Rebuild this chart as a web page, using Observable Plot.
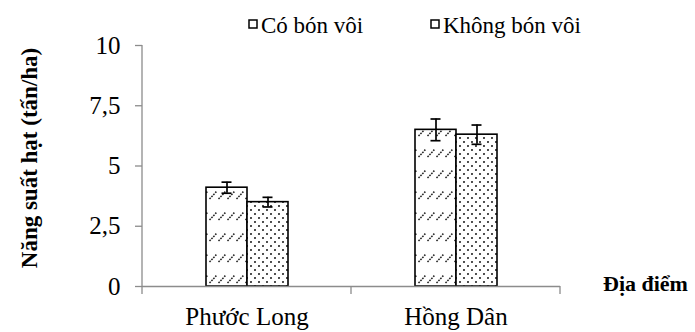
<!DOCTYPE html>
<html>
<head>
<meta charset="utf-8">
<script src="https://cdn.jsdelivr.net/npm/d3@7"></script>
<script src="https://cdn.jsdelivr.net/npm/@observablehq/plot@0.6"></script>
<style>
  body { margin: 0; background: white; }
  #chart { width: 695px; height: 332px; }
</style>
</head>
<body>
<div id="chart"></div>
<script>
const categories = ["Phước Long", "Hồng Dân"];
const series = ["Có bón vôi", "Không bón vôi"];
const coBonVoi = [4.1, 6.5];
const khongBonVoi = [3.5, 6.3];
const errCoBonVoi = [0.23, 0.45];
const errKhongBonVoi = [0.2, 0.4];
const yTicks = [0, 2.5, 5, 7.5, 10];
const yTickLabels = ["0", "2,5", "5", "7,5", "10"];
const yTitle = "Năng suất hạt (tấn/ha)";
const xTitle = "Địa điểm";

const seriesValues = [coBonVoi, khongBonVoi];
const seriesErrors = [errCoBonVoi, errKhongBonVoi];
const rows = [];
categories.forEach((c, i) => {
  series.forEach((s, j) => {
    rows.push({category: c, series: s, value: seriesValues[j][i], err: seriesErrors[j][i]});
  });
});
const fills = ["url(#hatch)", "url(#dots)"];

const font = "'Liberation Serif', 'Times New Roman', serif";

const plot = Plot.plot({
  width: 695,
  height: 332,
  marginLeft: 141,
  marginRight: 135,
  marginTop: 45,
  marginBottom: 46,
  style: {fontFamily: font, fontSize: "25px", color: "black", background: "white", overflow: "visible"},
  fx: {domain: categories, padding: 0, label: null},
  x: {domain: series, paddingInner: 0, paddingOuter: 1.494, axis: null},
  y: {domain: [0, 10], axis: null},
  marks: [
    Plot.axisY({ticks: yTicks, tickFormat: d => yTickLabels[yTicks.indexOf(d)], tickSize: 7, tickPadding: 15, stroke: "#8c8c8c", strokeWidth: 1.3, fill: "black", label: null, fontSize: 25}),
    Plot.axisFx({anchor: "bottom", tickSize: 0, tickPadding: 21, label: null, fontSize: 25, fill: "black"}),
    ...series.map((s, j) => Plot.barY(rows.filter(r => r.series === s), {
      fx: "category", x: "series", y: "value", fill: fills[j], stroke: "black", strokeWidth: 1.6
    })),
    Plot.ruleY([0], {stroke: "#8c8c8c", strokeWidth: 1.5}),
    Plot.ruleX(rows, {fx: "category", x: "series", y1: d => d.value - d.err, y2: d => d.value + d.err, stroke: "black", strokeWidth: 1.7}),
    Plot.tickY(rows, {fx: "category", x: "series", y: d => d.value - d.err, stroke: "black", strokeWidth: 1.7, insetLeft: 15.5, insetRight: 15.5}),
    Plot.tickY(rows, {fx: "category", x: "series", y: d => d.value + d.err, stroke: "black", strokeWidth: 1.7, insetLeft: 15.5, insetRight: 15.5})
  ]
});

const svg = d3.select(plot);
const defs = svg.insert("defs", ":first-child");
const hatch = defs.append("pattern").attr("id", "hatch").attr("patternUnits", "userSpaceOnUse")
  .attr("width", 9).attr("height", 21);
hatch.append("rect").attr("width", 9).attr("height", 21).attr("fill", "white");
hatch.append("line").attr("x1", 1.5).attr("y1", 10).attr("x2", 8.5).attr("y2", 2.5)
  .attr("stroke", "#222").attr("stroke-width", 1.5).attr("stroke-dasharray", "1.7 1.1");
const dots = defs.append("pattern").attr("id", "dots").attr("patternUnits", "userSpaceOnUse")
  .attr("width", 8).attr("height", 8);
dots.append("rect").attr("width", 8).attr("height", 8).attr("fill", "white");
dots.append("circle").attr("cx", 2).attr("cy", 2).attr("r", 1.05).attr("fill", "#222");
dots.append("circle").attr("cx", 6).attr("cy", 6).attr("r", 1.05).attr("fill", "#222");

// axis lines and category boundary ticks from Plot's scales
const fx = plot.scale("fx");
const y = plot.scale("y");
const y0 = y.apply(0), y10 = y.apply(10);
const xStart = fx.apply(categories[0]);
const xEnd = fx.apply(categories[categories.length - 1]) + fx.bandwidth;
svg.append("line").attr("x1", xStart).attr("x2", xStart).attr("y1", y10).attr("y2", y0 + 0.75)
  .attr("stroke", "#8c8c8c").attr("stroke-width", 1.3);
const bounds = categories.map(c => fx.apply(c)).concat([xEnd]);
svg.append("g").selectAll("line").data(bounds).join("line")
  .attr("x1", d => d).attr("x2", d => d).attr("y1", y0).attr("y2", y0 + 8)
  .attr("stroke", "#8c8c8c").attr("stroke-width", 1.3);

// legend
const lg = svg.append("g").attr("font-family", font).attr("font-size", 23).attr("text-anchor", "start");
const legendX = [249, 431];
series.forEach((s, j) => {
  lg.append("rect").attr("x", legendX[j]).attr("y", 20).attr("width", 8).attr("height", 8)
    .attr("fill", "white").attr("stroke", "black").attr("stroke-width", 1.5);
  lg.append("text").attr("x", legendX[j] + 12).attr("y", 33).attr("text-anchor", "start").text(s);
});

// axis titles
svg.append("text").attr("transform", "translate(37,158) rotate(-90)")
  .attr("text-anchor", "middle").attr("font-family", font).attr("font-weight", "bold")
  .attr("font-size", 23).text(yTitle);
svg.append("text").attr("x", 603).attr("y", 291).attr("text-anchor", "start")
  .attr("font-family", font).attr("font-weight", "bold").attr("font-size", 22).text(xTitle);

document.getElementById("chart").appendChild(plot);
</script>
</body>
</html>
